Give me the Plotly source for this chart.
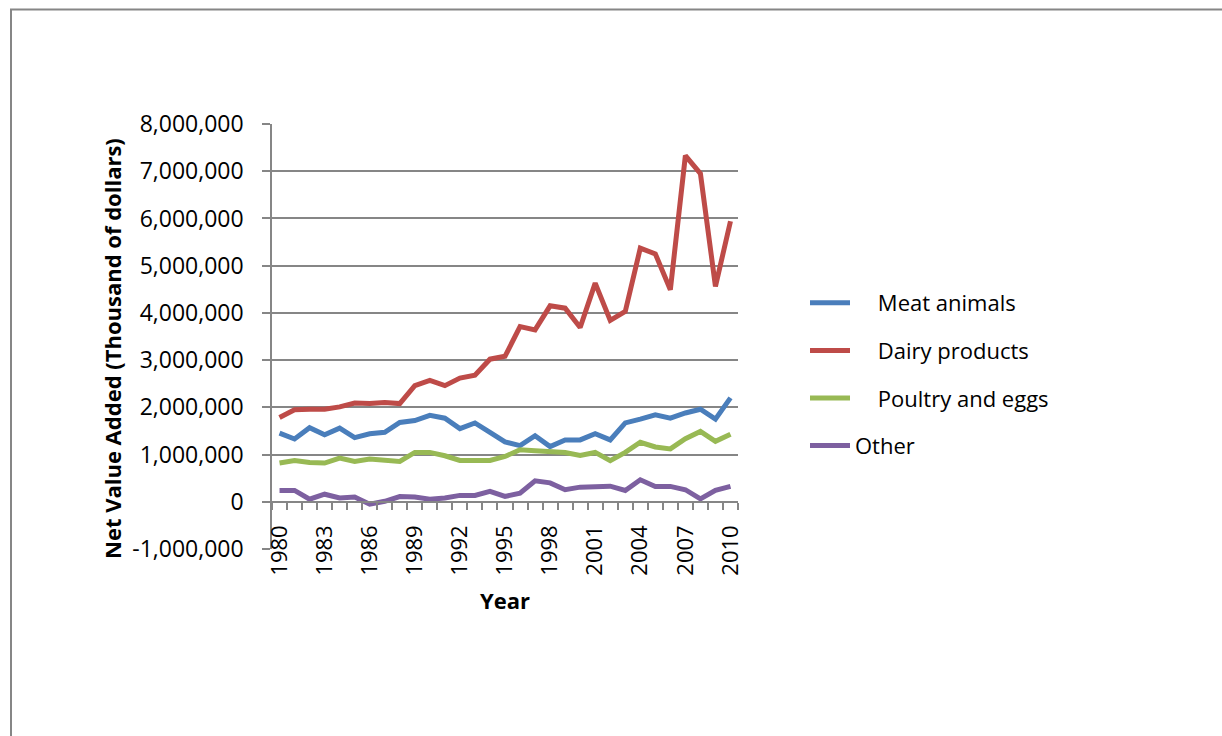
import plotly.graph_objects as go

years = list(range(1980, 2011))
meat_animals = [1.455, 1.33, 1.57, 1.42, 1.56, 1.36, 1.44, 1.47, 1.68, 1.72, 1.83, 1.77, 1.55, 1.67, 1.47, 1.27,
                1.19, 1.40, 1.17, 1.31, 1.31, 1.44, 1.31, 1.67, 1.75, 1.84, 1.77, 1.88, 1.96, 1.75, 2.20]
dairy_products = [1.786, 1.95, 1.96, 1.96, 2.01, 2.09, 2.08, 2.10, 2.08, 2.46, 2.57, 2.46, 2.62, 2.68, 3.02, 3.08,
                  3.71, 3.64, 4.15, 4.10, 3.69, 4.63, 3.84, 4.03, 5.37, 5.25, 4.49, 7.33, 6.95, 4.56, 5.94]
poultry_eggs = [0.82, 0.875, 0.83, 0.82, 0.925, 0.855, 0.905, 0.87, 0.855, 1.045, 1.045, 0.975, 0.875, 0.875, 0.875, 0.96,
                1.10, 1.08, 1.05, 1.045, 0.98, 1.045, 0.87, 1.045, 1.26, 1.16, 1.12, 1.335, 1.49, 1.28, 1.43]
other = [0.24, 0.24, 0.055, 0.16, 0.08, 0.10, -0.05, 0.01, 0.11, 0.10, 0.055, 0.08, 0.135, 0.135, 0.22, 0.115,
         0.18, 0.445, 0.40, 0.255, 0.31, 0.325, 0.33, 0.24, 0.465, 0.325, 0.325, 0.255, 0.06, 0.24, 0.325]

series_names = ["Meat animals", "Dairy products", "Poultry and eggs", "Other"]
legend_labels = ["    Meat animals", "    Dairy products", "    Poultry and eggs", "Other"]
series_values = [meat_animals, dairy_products, poultry_eggs, other]
colors = ["#4A7EBB", "#BE4B48", "#98B954", "#7D60A0"]

y_tickvals = list(range(-1000000, 8000001, 1000000))
y_ticktext = [f"{v:,}" for v in y_tickvals]
x_tickvals = list(range(1980, 2011, 3))

FONT = "Open Sans, Lato, sans-serif"
GRID = "#868686"

fig = go.Figure()
for i, (name, vals) in enumerate(zip(legend_labels, series_values)):
    fig.add_trace(go.Scatter(
        x=years, y=[v * 1e6 for v in vals], mode="lines", name=name,
        line=dict(color=colors[i], width=5), legendgroup=f"g{i}",
    ))

# plot area in pixels: left 272, right 738, top 124, bottom 549
L, R, T, B = 272, 738, 124, 549
W, H = 1222, 736
pw, ph = R - L, B - T

fig.update_layout(
    width=W, height=H,
    margin=dict(l=L, r=W - R, t=T, b=H - B, autoexpand=False),
    paper_bgcolor="white", plot_bgcolor="white",
    font=dict(family=FONT, size=22, color="black"),
    showlegend=True,
    legend=dict(x=(805 - L) / pw, y=(B - 282) / ph, xanchor="left", yanchor="top",
                font=dict(family=FONT, size=22, color="black"),
                tracegroupgap=16, traceorder="grouped", itemwidth=40,
                bgcolor="rgba(0,0,0,0)"),
    xaxis=dict(
        range=[1979.5, 2010.5], anchor="free", position=1 / 9,
        showline=True, linecolor=GRID, linewidth=1.5,
        tickmode="array", tickvals=x_tickvals, ticktext=[str(y) for y in x_tickvals],
        tickangle=-90, ticks="", ticklabelstandoff=14,
        tickfont=dict(family=FONT, size=22),
        minor=dict(tickmode="array", tickvals=[y - 0.5 for y in years] + [2010.5],
                   ticks="outside", ticklen=7, tickcolor=GRID, tickwidth=1.5, showgrid=False),
        showgrid=False, zeroline=False,
        title=dict(text="<b>Year</b>", font=dict(family=FONT, size=22), standoff=18),
    ),
    yaxis=dict(
        range=[-1000000, 8000000], domain=[0, 1],
        tickmode="array", tickvals=y_tickvals, ticktext=y_ticktext,
        showgrid=True, gridcolor=GRID, gridwidth=1.5,
        showline=True, linecolor=GRID, linewidth=1.5,
        ticks="outside", ticklen=8, tickcolor=GRID, tickwidth=1.5,
        ticklabelstandoff=14,
        zeroline=False,
        tickfont=dict(family=FONT, size=23),
    ),
    annotations=[dict(text="<b>Net Value Added (Thousand of dollars)</b>",
                      xref="paper", yref="paper",
                      x=(112 - L) / pw, y=(B - 349) / ph,
                      xanchor="center", yanchor="middle", textangle=-90,
                      showarrow=False, font=dict(family=FONT, size=22, color="black"))],
    shapes=[dict(type="rect", xref="paper", yref="paper",
                 x0=(11 - L) / pw, x1=(1240 - L) / pw,
                 y0=(B - 760) / ph, y1=(B - 9.5) / ph,
                 line=dict(color=GRID, width=2), fillcolor="rgba(0,0,0,0)", layer="below")],
)

fig.write_html("out.html")
